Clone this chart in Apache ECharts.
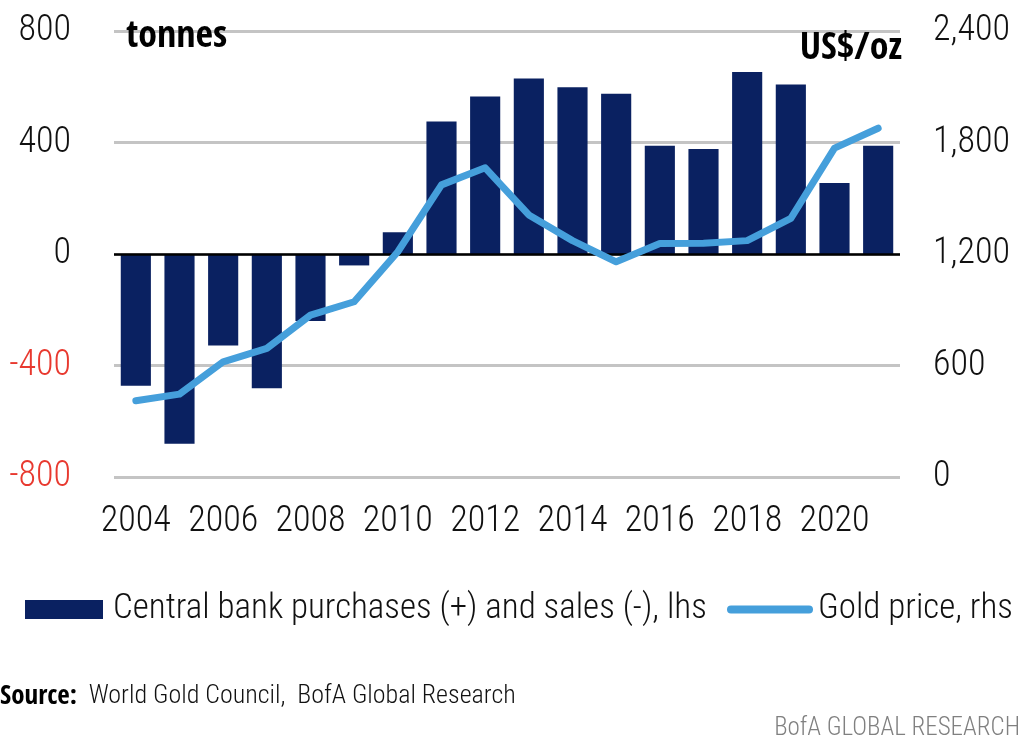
<!DOCTYPE html>
<html>
<head>
<meta charset="utf-8">
<script src="https://cdn.jsdelivr.net/npm/echarts@6/dist/echarts.min.js"></script>
<style>html,body{margin:0;padding:0;background:#fff}#c{width:1024px;height:744px}</style>
</head>
<body>
<div id="c"></div>
<script>
var years = ['2004','2005','2006','2007','2008','2009','2010','2011','2012','2013','2014','2015','2016','2017','2018','2019','2020','2021'];
var cbNet = [-473,-681,-328,-482,-240,-41,78,475,565,630,598,575,388,377,653,608,255,388];
var goldPrice = [410,446,620,692,871,943,1212,1572,1664,1410,1272,1158,1256,1258,1272,1392,1770,1877];
var lhsTicks = {min:-800, max:800, interval:400};
var rhsTicks = {min:0, max:2400, interval:600};

var FONT = "'Roboto Condensed', 'Liberation Sans', sans-serif";
var BOLD = "'Open Sans Condensed', 'Roboto Condensed', sans-serif";
var NAVY = '#0a2161';
var BLUE = '#459fdb';
var TXT = '#111';

var chart = echarts.init(document.getElementById('c'));
chart.setOption({
  animation: false,
  textStyle: {fontFamily: FONT, fontWeight: 300},
  grid: {left: 114, right: 124, top: 31, bottom: 267, containLabel: false},
  legend: [{
    left: 25, top: 592, padding: 0, itemWidth: 78, itemHeight: 19, selectedMode: false,
    textStyle: {fontFamily: FONT, fontWeight: 300, fontSize: 35, color: TXT, padding: [0,0,0,5]},
    data: [{name: 'Central bank purchases (+) and sales (-), lhs', icon: 'rect'}]
  },{
    left: 727, top: 592, padding: 0, itemWidth: 86, itemHeight: 20, selectedMode: false,
    textStyle: {fontFamily: FONT, fontWeight: 300, fontSize: 35, color: TXT},
    data: [{name: 'Gold price, rhs', icon: 'path://M4,6 L82,6 A4,4 0 0 1 82,14 L4,14 A4,4 0 0 1 4,6 Z M0,0 L0,0 M86,20 L86,20'}]
  }],
  xAxis: {
    type: 'category', data: years,
    axisLine: {show: false}, axisTick: {show: false},
    axisLabel: {interval: 1, fontSize: 36, color: TXT, margin: 27, fontFamily: FONT, fontWeight: 300}
  },
  yAxis: [{
    type: 'value', position: 'left',
    min: lhsTicks.min, max: lhsTicks.max, interval: lhsTicks.interval,
    axisLine: {show: false}, axisTick: {show: false},
    splitLine: {lineStyle: {color: '#c4c4c4', width: 3}},
    axisLabel: {fontSize: 36, margin: 43, fontFamily: FONT, fontWeight: 300,
      color: function(v){ return Number(v) < 0 ? '#e8392f' : TXT; }}
  },{
    type: 'value', position: 'right',
    min: rhsTicks.min, max: rhsTicks.max, interval: rhsTicks.interval,
    axisLine: {show: false}, axisTick: {show: false}, splitLine: {show: false},
    axisLabel: {fontSize: 36, margin: 33, color: TXT, fontFamily: FONT, fontWeight: 300,
      formatter: function(v){ return Number(v).toLocaleString('en-US'); }}
  }],
  series: [{
    name: 'Central bank purchases (+) and sales (-), lhs',
    type: 'bar', data: cbNet, yAxisIndex: 0, barWidth: '69%',
    itemStyle: {color: NAVY},
    markLine: {silent: true, symbol: ['none','none'], label: {show: false},
      lineStyle: {color: '#000', width: 2.5, type: 'solid'},
      data: [{yAxis: 0}]}
  },{
    name: 'Gold price, rhs',
    type: 'line', data: goldPrice, yAxisIndex: 1, symbol: 'none', z: 5,
    lineStyle: {color: BLUE, width: 7, cap: 'round', join: 'round'},
    itemStyle: {color: BLUE}
  }],
  graphic: [
    {type: 'text', left: 126, top: 18, z: 100, style: {text: 'tonnes', fontFamily: BOLD, fontWeight: 'bold', fontSize: 38, fill: '#000'}},
    {type: 'text', right: 122, top: 30, z: 100, style: {text: 'US$/oz', fontFamily: BOLD, fontWeight: 'bold', fontSize: 38, fill: '#000'}},
    {type: 'text', left: 0, top: 683, z: 100, style: {
      text: '{b|Source:}  World Gold Council,  BofA Global Research',
      fontFamily: FONT, fontWeight: 300, fontSize: 26, fill: TXT,
      rich: {b: {fontFamily: BOLD, fontWeight: 'bold', fontSize: 27, fill: '#000'}}}},
    {type: 'text', right: 4, top: 716, z: 100, style: {text: 'BofA GLOBAL RESEARCH', fontFamily: FONT, fontWeight: 300, fontSize: 25, fill: '#808080'}}
  ]
});
</script>
</body>
</html>
